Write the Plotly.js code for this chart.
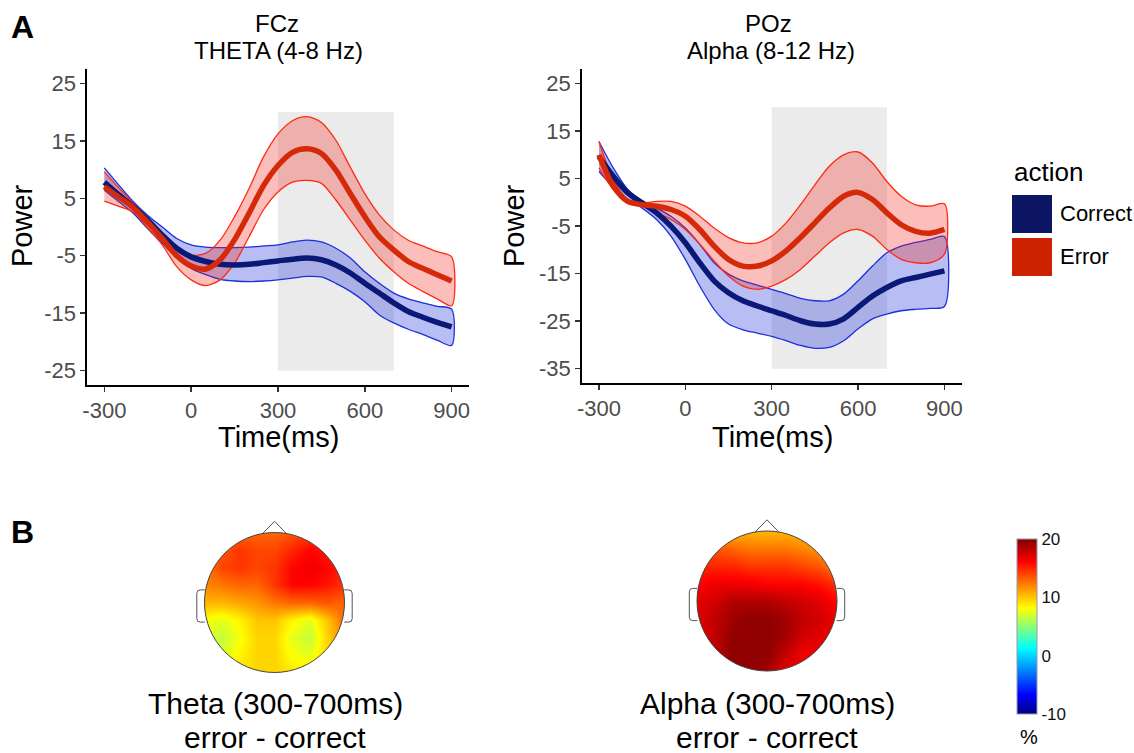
<!DOCTYPE html>
<html><head><meta charset="utf-8">
<script src="https://cdn.plot.ly/plotly-3.0.1.min.js"></script>
<style>html,body{margin:0;padding:0;background:#fff}#chart{width:1134px;height:753px}</style>
</head><body><div id="chart"></div>
<script>
// ---------- DATA ----------
const timeMs = [-300,-250,-200,-150,-100,-50,0,50,100,150,200,250,300,350,400,450,500,550,600,650,700,750,800,850,900];
const tickTime = [-300,0,300,600,900];
const windowMs = [300,700];

// FCz theta
const fczCorrectMean  = [7.8,5.6,3.5,1.2,-1.4,-3.7,-5.2,-6.0,-6.5,-6.6,-6.5,-6.2,-5.9,-5.6,-5.4,-5.7,-6.6,-8.0,-9.8,-11.5,-13.2,-14.7,-15.7,-16.6,-17.4];
const fczCorrectUpper = [10.3,7.3,4.4,2.0,0.0,-2.0,-3.1,-3.5,-3.6,-3.6,-3.5,-3.3,-3.1,-2.6,-2.3,-2.6,-3.7,-5.4,-7.8,-9.8,-11.5,-12.5,-13.2,-13.8,-14.3];
const fczCorrectLower = [6.4,4.4,2.4,-0.3,-2.8,-5.4,-7.2,-8.3,-9.1,-9.4,-9.5,-9.4,-9.2,-8.9,-8.6,-8.7,-9.8,-11.2,-13.0,-15.3,-16.7,-17.8,-18.7,-19.7,-20.6];
const fczErrorMean    = [7.0,5.2,3.4,0.8,-2.0,-5.0,-6.8,-7.3,-5.7,-2.2,2.4,7.2,10.7,13.0,13.6,12.8,9.9,5.8,1.8,-1.7,-4.0,-6.0,-7.2,-8.3,-9.4];
const fczErrorUpper   = [9.6,6.8,4.1,1.5,-1.1,-3.7,-4.9,-4.6,-2.3,1.8,6.7,12.2,16.2,18.5,19.2,18.2,15.1,10.4,5.8,2.1,-0.5,-2.3,-3.3,-4.3,-5.2];
const fczErrorLower   = [4.5,3.6,2.6,-0.2,-3.1,-6.9,-9.2,-10.2,-9.2,-6.3,-1.7,3.0,6.1,7.8,8.1,7.6,4.7,1.2,-2.3,-5.4,-7.8,-9.8,-11.2,-12.5,-13.7];
const fczTicks = [-25,-15,-5,5,15,25];
const fczShadeY = [-25,20];

// POz alpha
const pozCorrectMean  = [9.6,5.5,2.0,-0.1,-2.2,-5.0,-8.5,-12.7,-16.5,-19.0,-20.7,-21.8,-22.8,-23.8,-24.9,-25.6,-25.6,-24.5,-22.1,-19.7,-17.9,-16.5,-15.8,-15.1,-14.4];
const pozCorrectUpper = [12.8,7.2,2.7,0.2,-1.2,-2.9,-5.4,-8.8,-12.7,-15.1,-16.5,-17.4,-18.3,-19.2,-20.2,-20.7,-20.7,-19.3,-16.5,-13.4,-10.6,-9.2,-8.4,-7.8,-7.2];
const pozCorrectLower = [6.5,3.2,0.6,-1.2,-3.6,-7.1,-12.0,-17.6,-22.5,-25.6,-26.8,-27.5,-28.2,-29.1,-30.1,-30.7,-30.5,-29.1,-26.6,-24.5,-23.5,-22.8,-22.5,-22.3,-21.9];
const pozErrorMean    = [10.0,3.4,0.2,-0.5,-0.8,-1.5,-2.9,-5.7,-9.2,-12.0,-13.4,-13.4,-12.3,-10.2,-7.4,-4.3,-1.2,1.3,2.1,0.6,-2.2,-4.7,-6.1,-6.5,-5.7];
const pozErrorUpper   = [12.8,4.8,0.6,-0.1,0.2,0.2,-0.8,-2.9,-5.4,-7.4,-8.5,-8.5,-7.1,-4.3,-0.5,3.7,7.6,10.0,10.6,8.3,4.4,1.3,-0.5,-0.8,-0.3];
const pozErrorLower   = [7.2,2.7,0.2,-0.8,-2.2,-3.6,-5.7,-8.8,-12.3,-15.5,-17.6,-18.3,-17.6,-16.2,-14.1,-11.3,-8.5,-6.4,-5.7,-7.1,-9.9,-12.0,-12.7,-12.7,-10.9];
const pozTicks = [-35,-25,-15,-5,5,15,25];
const pozShadeY = [-35,20];

const groups = ['Correct','Error'];

// Topographies (error - correct, %), rows from front (top) to back (bottom)
const topoGrid = [-1,-0.75,-0.5,-0.25,0,0.25,0.5,0.75,1];
const thetaTopo = [
  [13,13,13,13,13,13.5,14,14,14],
  [13,13.5,14.5,14,14,15,16,15.5,15],
  [12.5,14,14.5,14,14.5,16,16.5,16,15],
  [12,12.5,13,13,14.5,16,16,15.5,14.5],
  [10.5,10.5,11,11.5,12.5,13,13,13.5,13],
  [8,7.5,8.5,10,10,8.5,7.5,10,13],
  [7.5,6.5,8,9.5,9.5,7.5,6.5,9.5,12],
  [7.5,7,8.5,9.5,9.5,8,7.5,9.5,11],
  [8.5,8.5,9,9.5,9.5,9,9,9.5,10.5]
];
const alphaTopo = [
  [11,11,10.5,10.5,10.5,10.5,10.5,10,10],
  [13.5,13.5,13,12.5,12.5,12.5,12,11.5,10.5],
  [15,15,15,14.5,14.5,14.5,14,13.5,12],
  [16,16.5,16.5,16.5,16,16,16,15.5,14.5],
  [17,17.5,18.5,18.5,18.5,18,17.5,17,16],
  [17,18,19,19.5,19.5,19,18,17.5,16.5],
  [17,18,19.5,19.5,19.5,19,17.5,17,16.5],
  [17,18,19.5,19.5,19.5,18,16.5,16.5,16.5],
  [17,18,19.5,19.5,19,17,16.5,16.5,16.5]
];
const colorTicks = [-10,0,10,20];
const colorRange = [-10,20];

// ---------- STYLE / LAYOUT ----------
const W = 1134, H = 753;
const px = x => x / W, py = y => 1 - y / H;
const FONT = 'Liberation Sans, Arial, sans-serif';
const COL = {
  Correct: {mean:'#0a1878', edge:'#1a2ee0', fill:'rgba(20,35,215,0.30)', key:'#0d1665'},
  Error:   {mean:'#d42a0a', edge:'#ff2a14', fill:'rgba(245,40,25,0.30)', key:'#cc2200'}
};
const labels = v => v.map(t => String(t));

function ribbon(xa, ya, upper, lower, c) {
  return {type:'scatter', mode:'lines', xaxis:xa, yaxis:ya,
    x: timeMs.concat(timeMs.slice().reverse()),
    y: upper.concat(lower.slice().reverse()),
    fill:'toself', fillcolor:c.fill,
    line:{color:c.edge, width:1.3, shape:'spline', smoothing:0.8}, hoverinfo:'skip'};
}
function meanLine(xa, ya, vals, c) {
  return {type:'scatter', mode:'lines', xaxis:xa, yaxis:ya, x:timeMs, y:vals,
    line:{color:c.mean, width:5.5, shape:'spline', smoothing:0.8}, hoverinfo:'skip'};
}
const revRows = m => m.slice().reverse();
const topoY = topoGrid.slice();

const traces = [
  ribbon('x','y', fczCorrectUpper, fczCorrectLower, COL.Correct),
  ribbon('x','y', fczErrorUpper, fczErrorLower, COL.Error),
  meanLine('x','y', fczCorrectMean, COL.Correct),
  meanLine('x','y', fczErrorMean, COL.Error),
  ribbon('x2','y2', pozCorrectUpper, pozCorrectLower, COL.Correct),
  ribbon('x2','y2', pozErrorUpper, pozErrorLower, COL.Error),
  meanLine('x2','y2', pozCorrectMean, COL.Correct),
  meanLine('x2','y2', pozErrorMean, COL.Error),
  {type:'heatmap', xaxis:'x3', yaxis:'y3', x:topoGrid, y:topoY, z:revRows(thetaTopo),
   zsmooth:'best', coloraxis:'coloraxis', hoverinfo:'skip'},
  {type:'heatmap', xaxis:'x4', yaxis:'y4', x:topoGrid, y:topoY, z:revRows(alphaTopo),
   zsmooth:'best', coloraxis:'coloraxis', hoverinfo:'skip'}
];

const lineAxis = {showline:true, linecolor:'#000', linewidth:1.6, ticks:'outside', ticklen:5,
  tickwidth:1.5, tickcolor:'#333', showgrid:false, zeroline:false,
  tickfont:{family:FONT, size:22, color:'#4d4d4d'}, fixedrange:true};
const hidden = {visible:false, range:[-1.3,1.3], fixedrange:true};

// topomap decorations
const k = 0.5523;
const circlePath = `M 1,0 C 1,${k} ${k},1 0,1 C -${k},1 -1,${k} -1,0 C -1,-${k} -${k},-1 0,-1 C ${k},-1 1,-${k} 1,0 Z`;
const maskPath = `M -1.3,-1.3 L 1.3,-1.3 L 1.3,1.3 L -1.3,1.3 Z ` + circlePath;
function headShapes(xa, ya) {
  const ln = {color:'#555', width:1};
  return [
    {type:'path', xref:xa, yref:ya, path:maskPath, fillcolor:'#fff', fillrule:'evenodd', line:{width:0}},
    {type:'path', xref:xa, yref:ya, path:circlePath, line:{color:'#444', width:1}},
    {type:'path', xref:xa, yref:ya, path:'M -0.17,0.985 L 0,1.16 L 0.17,0.985', line:ln},
    {type:'path', xref:xa, yref:ya, path:'M -0.995,0.18 L -1.06,0.18 Q -1.11,0.18 -1.11,0.13 L -1.11,-0.23 Q -1.11,-0.28 -1.06,-0.28 L -0.995,-0.28', line:ln},
    {type:'path', xref:xa, yref:ya, path:'M 0.995,0.18 L 1.06,0.18 Q 1.11,0.18 1.11,0.13 L 1.11,-0.23 Q 1.11,-0.28 1.06,-0.28 L 0.995,-0.28', line:ln}
  ];
}

const shapes = [
  {type:'rect', xref:'x', yref:'y', x0:windowMs[0], x1:windowMs[1], y0:fczShadeY[0], y1:fczShadeY[1], fillcolor:'#ebebeb', line:{width:0}, layer:'below'},
  {type:'rect', xref:'x2', yref:'y2', x0:windowMs[0], x1:windowMs[1], y0:pozShadeY[0], y1:pozShadeY[1], fillcolor:'#ebebeb', line:{width:0}, layer:'below'},
  ...headShapes('x3','y3'),
  ...headShapes('x4','y4'),
  {type:'rect', xref:'paper', yref:'paper', x0:px(1012), x1:px(1052), y0:py(233), y1:py(195), fillcolor:COL.Correct.key, line:{width:0}},
  {type:'rect', xref:'paper', yref:'paper', x0:px(1012), x1:px(1052), y0:py(276), y1:py(238), fillcolor:COL.Error.key, line:{width:0}}
];

function ann(text, x, y, size, opts) {
  return Object.assign({text, xref:'paper', yref:'paper', x:px(x), y:py(y), showarrow:false,
    xanchor:'center', yanchor:'middle', font:{family:FONT, size, color:'#000'}}, opts || {});
}
const annotations = [
  ann('<b>A</b>', 22, 27, 32),
  ann('<b>B</b>', 22, 532, 32),
  ann('FCz', 277, 24, 24),
  ann('THETA (4-8 Hz)', 278, 51, 24),
  ann('POz', 768, 24, 24),
  ann('Alpha (8-12 Hz)', 771, 51, 24),
  ann('Power', 22, 226, 29, {textangle:-90}),
  ann('Power', 514, 226, 29, {textangle:-90}),
  ann('Time(ms)', 278, 437, 29),
  ann('Time(ms)', 772, 437, 29),
  ann('action', 1012, 172, 26, {xanchor:'left'}),
  ann(groups[0], 1058, 214, 22, {xanchor:'left'}),
  ann(groups[1], 1058, 257, 22, {xanchor:'left'}),
  ann('Theta (300-700ms)', 275, 703, 30),
  ann('error - correct', 275, 737, 30),
  ann('Alpha (300-700ms)', 767, 703, 30),
  ann('error - correct', 767, 737, 30),
  ann('%', 1029, 737, 20)
];

const layout = {
  width:W, height:H, margin:{l:0,r:0,t:0,b:0}, paper_bgcolor:'#fff', plot_bgcolor:'rgba(0,0,0,0)',
  showlegend:false, font:{family:FONT},
  xaxis:Object.assign({}, lineAxis, {domain:[px(87), px(469)], range:[-360,960], anchor:'y', tickvals:tickTime, ticktext:labels(tickTime)}),
  yaxis:Object.assign({}, lineAxis, {domain:[py(385), py(69)], range:[-27.5,27.5], anchor:'x', tickvals:fczTicks, ticktext:labels(fczTicks)}),
  xaxis2:Object.assign({}, lineAxis, {domain:[px(581.7), px(961.7)], range:[-360,960], anchor:'y2', tickvals:tickTime, ticktext:labels(tickTime)}),
  yaxis2:Object.assign({}, lineAxis, {domain:[py(383), py(69.3)], range:[-38,28], anchor:'x2', tickvals:pozTicks, ticktext:labels(pozTicks)}),
  xaxis3:Object.assign({}, hidden, {domain:[px(183.5), px(365.5)], anchor:'y3'}),
  yaxis3:Object.assign({}, hidden, {domain:[py(693.5), py(511.5)], anchor:'x3'}),
  xaxis4:Object.assign({}, hidden, {domain:[px(676), px(858)], anchor:'y4'}),
  yaxis4:Object.assign({}, hidden, {domain:[py(692), py(510)], anchor:'x4'}),
  coloraxis:{cmin:colorRange[0], cmax:colorRange[1],
    colorscale:[[0,'#00007f'],[0.11,'#0000ff'],[0.377,'#00ffff'],[0.49,'#80ff80'],[0.606,'#ffff00'],[0.74,'#ff8000'],[0.87,'#ff0000'],[1,'#800000']],
    colorbar:{x:px(1017), xanchor:'left', y:py(626.5), yanchor:'middle', thickness:20, thicknessmode:'pixels',
      len:175, lenmode:'pixels', xpad:0, ypad:0, outlinewidth:1, outlinecolor:'#9a9ab0',
      tickvals:colorTicks, ticktext:labels(colorTicks), ticks:'', ticklabelposition:'outside',
      tickfont:{family:FONT, size:17, color:'#111'}}},
  shapes, annotations
};

Plotly.newPlot('chart', traces, layout, {displayModeBar:false, staticPlot:true});
</script>
</body></html>
